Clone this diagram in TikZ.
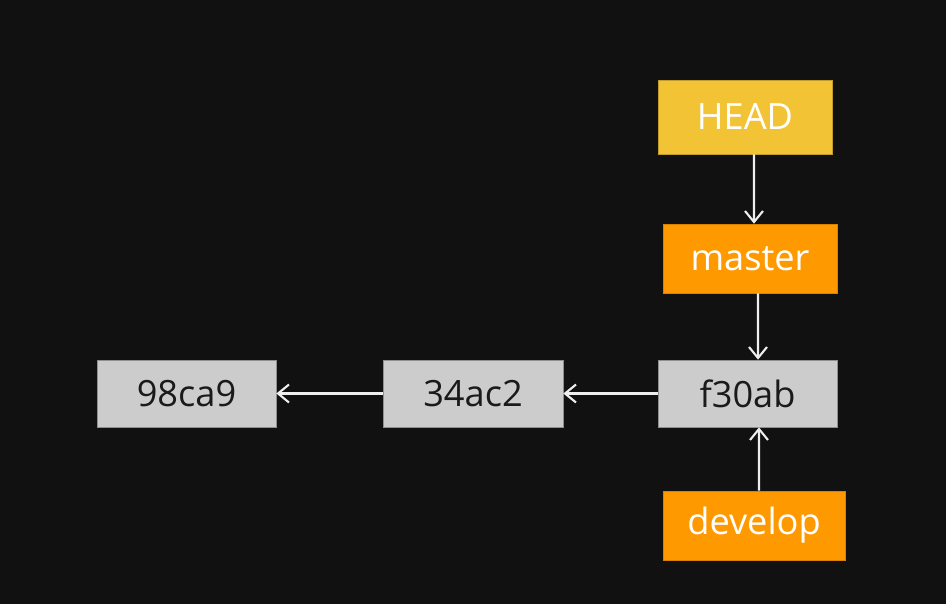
\documentclass[tikz,border=0pt]{standalone}
\usepackage{fontspec}
\setmainfont{Open Sans}
\usetikzlibrary{arrows.meta,positioning}
\definecolor{gitBg}{HTML}{111111}
\definecolor{gitHead}{HTML}{F2C335}
\definecolor{gitBranch}{HTML}{FF9900}
\definecolor{gitCommit}{HTML}{CCCCCC}
\definecolor{gitText}{HTML}{1A1A1A}
\definecolor{gitLine}{HTML}{EEEEEE}
\tikzset{
  >={Straight Barb[length=2.2mm,width=3.6mm]},
  refbox/.style={draw=gitHead!80!black, fill=gitHead, text=white,
              minimum width=3.48cm, minimum height=1.48cm, font=\fontsize{20.6}{24}\selectfont, inner sep=0pt},
  branch/.style={draw=gitBranch!85!black, fill=gitBranch, text=white,
              minimum width=3.48cm, minimum height=1.38cm, font=\fontsize{20.6}{24}\selectfont, inner sep=0pt},
  commit/.style={draw=gitCommit!70!black, fill=gitCommit, text=gitText,
              minimum width=3.58cm, minimum height=1.34cm, font=\fontsize{20.6}{24}\selectfont, inner sep=0pt},
  link/.style={->, draw=gitLine, line width=1.2pt},
}
\begin{document}
\begin{tikzpicture}[x=0.02cm,y=-0.02cm]
    % canvas
    \fill[gitBg] (0,0) rectangle (946,604);
    \useasboundingbox (0,0) rectangle (946,604);

    % pointers
    \node[refbox] (head) at (745,117){HEAD};
    \node[branch] (master) at (750,258.5){master};
    \node[branch,minimum width=3.64cm] (develop) at (754,525.5){develop};

    % commits
    \node[commit] (c3) at (747.5,393.5){f30ab};
    \node[commit,minimum width=3.6cm] (c2) at (473,393.5){34ac2};
    \node[commit] (c1) at (186.5,393.5){98ca9};

    \draw[link] ([xshift=0.18cm]head.south) -- ([xshift=0.08cm]master.north);
    \draw[link] ([xshift=0.16cm]master.south) -- ([xshift=0.21cm]c3.north);
    \draw[link] ([xshift=0.1cm]develop.north) -- ([xshift=0.23cm]c3.south);
    \draw[link] (c3.west) -- (c2.east);
    \draw[link] (c2.west) -- (c1.east);
\end{tikzpicture}
\end{document}
